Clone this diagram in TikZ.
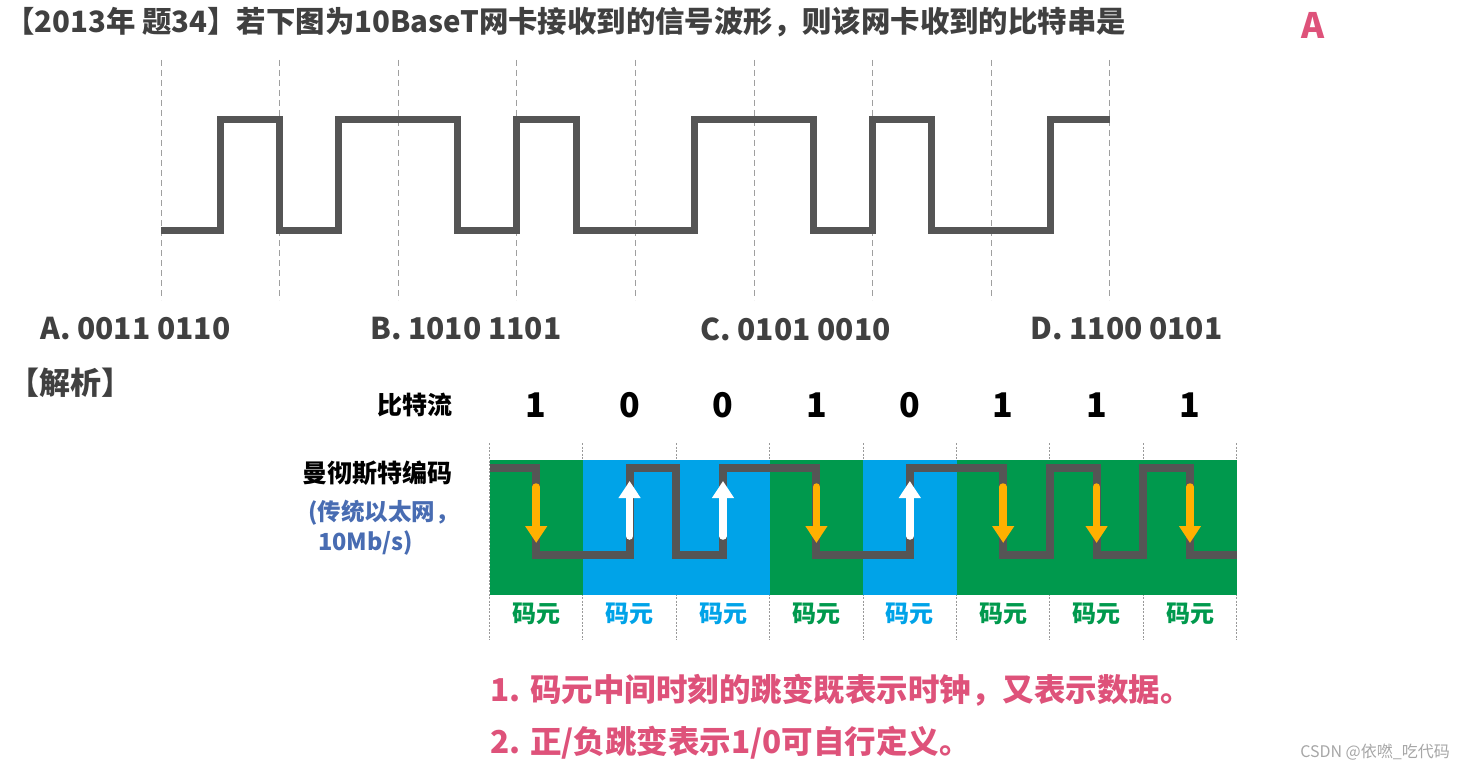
\documentclass[tikz,border=0pt]{standalone}
\usepackage{fontspec}
\setmainfont{Noto Sans CJK SC}
\usetikzlibrary{positioning, arrows.meta}

\definecolor{wavegray}{RGB}{85,85,85}
\definecolor{textgray}{RGB}{64,64,64}
\definecolor{cellgreen}{RGB}{0,153,77}
\definecolor{cellblue}{RGB}{0,163,232}
\definecolor{markpink}{RGB}{222,82,122}
\definecolor{noteblue}{RGB}{72,108,178}
\definecolor{arrowamber}{RGB}{255,176,0}

\begin{document}
\begin{tikzpicture}[
  x=1pt, y=-1pt,
  heading/.style={anchor=west, inner sep=0pt, text=textgray, font=\fontsize{29.4}{34}\selectfont\bfseries},
  choice/.style={anchor=west, inner sep=0pt, text=textgray, font=\fontsize{30}{36}\selectfont\bfseries},
  rowlabel/.style={anchor=east, inner sep=0pt, text=black, font=\fontsize{25}{30}\selectfont\bfseries},
  bitlabel/.style={inner sep=0pt, text=black, font=\fontsize{34}{38}\selectfont\bfseries},
  celllabel/.style={inner sep=0pt, font=\fontsize{24}{28}\selectfont\bfseries},
  sidenote/.style={anchor=west, inner sep=0pt, text=noteblue, font=\fontsize{23.5}{28}\selectfont\bfseries},
  remark/.style={anchor=west, inner sep=0pt, text=markpink, font=\fontsize{31.5}{36}\selectfont\bfseries},
  guide/.style={gray!75, line width=0.9pt, dash pattern=on 6pt off 4pt},
  fineguide/.style={gray!80, line width=0.9pt, dash pattern=on 2pt off 1.5pt},
  wave/.style={wavegray, line width=7pt, line join=miter},
  fallarr/.style={-{Triangle[width=21pt,length=17pt]}, arrowamber, line width=7.5pt, line cap=round},
  risearr/.style={-{Triangle[width=21pt,length=17pt]}, white, line width=7.5pt, line cap=round}
]
\useasboundingbox (0,0) rectangle (1462,773);

% question
\node[heading] (title) at (5,22) {【2013年 题34】若下图为10BaseT网卡接收到的信号波形，则该网卡收到的比特串是};
\node[inner sep=0pt, text=markpink, font=\fontsize{35}{40}\selectfont\bfseries] (answer) at (1313,25) {A};

% received signal
\foreach \i in {0,...,8}
  \draw[guide] (161+118.6*\i,60) -- (161+118.6*\i,300);
\draw[wave] (161,230) -| (220.3,120) -| (279.6,230) -| (338.9,120) -| (457.5,230)
  -| (516.8,120) -| (576.1,230) -| (694.7,120) -| (813.3,230) -| (872.6,120)
  -| (931.9,230) -| (1050.5,120) -- (1109.8,120);

\node[choice] (optA) at (40,329) {A. 0011 0110};
\node[choice] (optB) at (370,329) {B. 1010 1101};
\node[choice] (optC) at (700,329) {C. 0101 0010};
\node[choice] (optD) at (1030,329) {D. 1100 0101};

% analysis
\node[heading, font=\fontsize{31}{34}\selectfont\bfseries] (analysis) at (8,383) {【解析】};
\node[rowlabel] (bitrow) at (453,405) {比特流};
\node[rowlabel] (manch) at (453,473) {曼彻斯特编码};
\node[sidenote] (note1) at (308,513) {(传统以太网，};
\node[sidenote] (note2) at (318,543) {10Mb/s)};

\foreach \i in {0,...,8}
  \draw[fineguide] (489.5+93.4*\i,443) -- (489.5+93.4*\i,640);

\foreach \b [count=\i from 0] in {1,0,0,1,0,1,1,1} {
  \ifnum\b=1 \def\cellcol{cellgreen}\else \def\cellcol{cellblue}\fi
  \fill[\cellcol] (489.5+93.4*\i,460) rectangle (582.9+93.4*\i,595);
  \node[bitlabel] (bit\i) at (536.2+93.4*\i,405) {\b};
  \node[celllabel, text=\cellcol] (sym\i) at (536.2+93.4*\i,614) {码元};
}

\draw[wave, line width=8pt] (489.5,468) -| (536.2,555) -| (629.6,468) -| (676.3,555)
  -| (723,468) -| (816.4,555) -| (909.8,468) -| (1003.2,555) -| (1049.9,468)
  -| (1096.6,555) -| (1143.3,468) -| (1190,555) -- (1236.7,555);

\foreach \b [count=\i from 0] in {1,0,0,1,0,1,1,1} {
  \ifnum\b=1
    \draw[fallarr] (536.2+93.4*\i,487) -- (536.2+93.4*\i,543);
  \else
    \draw[risearr] (536.2+93.4*\i,536) -- (536.2+93.4*\i,481);
  \fi
}

\node[remark] (rule1) at (490,690) {1. 码元中间时刻的跳变既表示时钟，又表示数据。};
\node[remark] (rule2) at (490,743) {2. 正/负跳变表示1/0可自行定义。};

\node[anchor=east, inner sep=0pt, text=gray!70, font=\fontsize{16}{19}\selectfont] (mark) at (1450,752) {CSDN @依嘫\_吃代码};
\end{tikzpicture}
\end{document}
